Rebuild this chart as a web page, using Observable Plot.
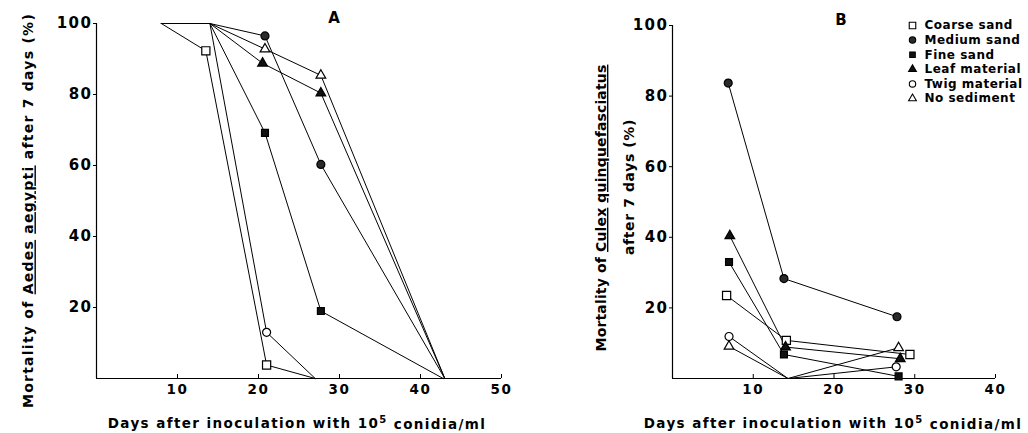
<!DOCTYPE html>
<html><head><meta charset="utf-8">
<script src="https://cdn.jsdelivr.net/npm/d3@7"></script>
<script src="https://cdn.jsdelivr.net/npm/@observablehq/plot@0.6"></script>
<style>
body{margin:0;background:#fff;}
#wrap{display:flex;width:1028px;height:433px;overflow:hidden;}
svg text{white-space:pre;}
</style></head><body><div id="wrap"></div>
<script>
// Series (legend order)
const SERIES = ["Coarse sand","Medium sand","Fine sand","Leaf material","Twig material","No sediment"];

// Panel A: Aedes aegypti
const A_coarse_x = [8, 13.5, 21, 27];          const A_coarse_y = [100, 92.3, 3.8, 0];
const A_medium_x = [8, 14, 20.8, 27.7, 43];    const A_medium_y = [100, 100, 96.5, 60.3, 0];
const A_fine_x   = [8, 14, 20.8, 27.7, 42.8];  const A_fine_y   = [100, 100, 69.2, 19, 0];
const A_leaf_x   = [8, 14, 20.5, 27.7, 43];    const A_leaf_y   = [100, 100, 88.8, 80.4, 0];
const A_twig_x   = [8, 14, 21, 27];            const A_twig_y   = [100, 100, 13, 0];
const A_none_x   = [8, 14, 20.8, 27.7, 43];    const A_none_y   = [100, 100, 92.8, 85.4, 0];

// Panel B: Culex quinquefasciatus
const B_coarse_x = [6.7, 14.1, 29.4];  const B_coarse_y = [23.5, 10.8, 6.8];
const B_medium_x = [6.9, 13.8, 27.8];  const B_medium_y = [83.7, 28.3, 17.5];
const B_fine_x   = [7.0, 13.8, 28.0];  const B_fine_y   = [33, 6.8, 0.6];
const B_leaf_x   = [7.1, 14.0, 28.2];  const B_leaf_y   = [40.4, 8.9, 5.6];
const B_twig_x   = [7.0, 14.3, 27.7];  const B_twig_y   = [11.9, 0, 3.3];
const B_none_x   = [7.0, 14.3, 28.0];  const B_none_y   = [9.1, 0, 8.7];

const A_xTicks = [10, 20, 30, 40, 50];
const B_xTicks = [10, 20, 30, 40];
const yTicks = [20, 40, 60, 80, 100];

// styles
const SYMBOL = ["square","circle","square","triangle","circle","triangle"];
const FILL = ["white","#2a2a2a","#111","#111","white","white"];
const RAD = [4.6, 4.0, 3.9, 3.6, 4.0, 3.6];
const FONT = "DejaVu Sans, Verdana, sans-serif";

function rows(pairs) {
  const out = [];
  pairs.forEach(([xs, ys], i) => xs.forEach((x, j) => out.push({series: SERIES[i], idx: i, x, y: ys[j], j})));
  return out;
}
const rowsA = rows([[A_coarse_x,A_coarse_y],[A_medium_x,A_medium_y],[A_fine_x,A_fine_y],[A_leaf_x,A_leaf_y],[A_twig_x,A_twig_y],[A_none_x,A_none_y]]);
const rowsB = rows([[B_coarse_x,B_coarse_y],[B_medium_x,B_medium_y],[B_fine_x,B_fine_y],[B_leaf_x,B_leaf_y],[B_twig_x,B_twig_y],[B_none_x,B_none_y]]);

function rebuild(svg, label, parts, ls) {
  const t = d3.select(svg).select(`g[aria-description="${label}"] text`);
  if (t.empty()) return t;
  t.text(null).style("letter-spacing", ls + "px");
  parts.forEach(([s, u]) => {
    const ts = t.append("tspan").text(s);
    if (u === true) ts.style("text-decoration", "underline");
    if (u === "sup") ts.attr("dy", "-0.45em").style("font-size", "10px");
    if (u === "after") ts.attr("dy", "0.45em");
  });
  return t;
}
function spacing(svg, sel, px) {
  d3.select(svg).selectAll(sel).style("letter-spacing", px + "px");
}

function panel(o) {
  const marks = [
    Plot.ruleY([0], {stroke: "black", strokeWidth: 1.2}),
    Plot.ruleX([0], {stroke: "black", strokeWidth: 1.2}),
    Plot.axisY({ticks: yTicks, tickSize: 3, tickPadding: 1, fontSize: 15, label: null}),
    Plot.axisX({ticks: o.xTicks, tickSize: -4, tickPadding: 10, fontSize: 13.5, label: null}),
    Plot.line(o.rows, {x: "x", y: "y", z: "series", stroke: "black", strokeWidth: 1}),
  ];
  SERIES.forEach((s, i) => {
    marks.push(Plot.dot(o.rows.filter(d => d.idx === i && d.y > 0 && d.y < 100),
      {x: "x", y: "y", symbol: () => SYMBOL[i], r: RAD[i], fill: FILL[i], stroke: "black", strokeWidth: 1.2}));
  });
  marks.push(Plot.text([o.title], {frameAnchor: "top", lineAnchor: "middle", dx: o.titleDx, dy: -5, fontSize: 15, text: d => d}));
  marks.push(Plot.text([o.xTitle], {frameAnchor: "bottom", dx: o.xTitleDx, dy: 49, fontSize: 13.5, text: d => d, ariaDescription: "xtitle"}));
  o.yTitles.forEach((t, k) => {
    marks.push(Plot.text([t.text], {frameAnchor: "left", textAnchor: "middle", lineAnchor: "middle", rotate: -90, dx: t.dx, dy: t.dy, fontSize: 14, text: d => d, ariaDescription: "ytitle" + k}));
  });
  if (o.legend) {
    SERIES.forEach((s, i) => {
      marks.push(Plot.dot([s], {x: null, y: null, frameAnchor: "top-left", dx: o.legend.dx, dy: o.legend.dy + i * 14.6,
        symbol: () => SYMBOL[i], r: RAD[i] * 0.8, fill: FILL[i], stroke: "black", strokeWidth: 1.1}));
      marks.push(Plot.text([s], {frameAnchor: "top-left", lineAnchor: "middle", dx: o.legend.dx + 12, dy: o.legend.dy + i * 14.6, textAnchor: "start", fontSize: 12, text: d => d, ariaDescription: "legend"}));
    });
  }
  const svg = Plot.plot({
    width: 514, height: 433,
    marginLeft: o.ml, marginRight: o.mr, marginTop: o.mt, marginBottom: o.mb,
    x: {domain: o.xDomain, label: null},
    y: {domain: [0, 100], label: null},
    style: {fontFamily: FONT, fontWeight: "bold", color: "black", background: "white", overflow: "visible"},
    marks
  });
  o.yTitles.forEach((t, k) => rebuild(svg, "ytitle" + k, t.parts, t.ls));
  rebuild(svg, "xtitle", [["Days after inoculation with 10", false], ["5", "sup"], [" conidia/ml", "after"]], 1.4);
  spacing(svg, 'g[aria-label="y-axis tick label"] text', 1.5);
  spacing(svg, 'g[aria-label="x-axis tick label"] text', 1.5);
  spacing(svg, 'g[aria-description="legend"] text', 0.5);
  return svg;
}

const svgA = panel({
  rows: rowsA, xDomain: [0, 50], xTicks: A_xTicks, ml: 96, mr: 13, mt: 23, mb: 55,
  title: "A", titleDx: 35, xTitle: "Days after inoculation with 105 conidia/ml", xTitleDx: -2,
  yTitles: [{text: "Mortality of Aedes aegypti after 7 days (%)", dx: -67.5, dy: 9.5, ls: 1.25,
    parts: [["Mortality of ", false], ["Aedes", true], [" ", false], ["aegypti", true], [" after 7 days (%)", false]]}]
});
const svgB = panel({
  rows: rowsB, xDomain: [0, 40], xTicks: B_xTicks, ml: 158, mr: 33, mt: 25, mb: 55,
  title: "B", titleDx: 7, xTitle: "Days after inoculation with 105 conidia/ml", xTitleDx: -1,
  legend: {dx: 240, dy: 0},
  yTitles: [
    {text: "Mortality of Culex quinquefasciatus", dx: -71, dy: 6, ls: 0.15,
      parts: [["Mortality of ", false], ["Culex", true], [" ", false], ["quinquefasciatus", true]]},
    {text: "after 7 days (%)", dx: -43, dy: -15, ls: 0.6, parts: [["after 7 days (%)", false]]}
  ]
});
document.getElementById("wrap").append(svgA, svgB);
</script></body></html>
